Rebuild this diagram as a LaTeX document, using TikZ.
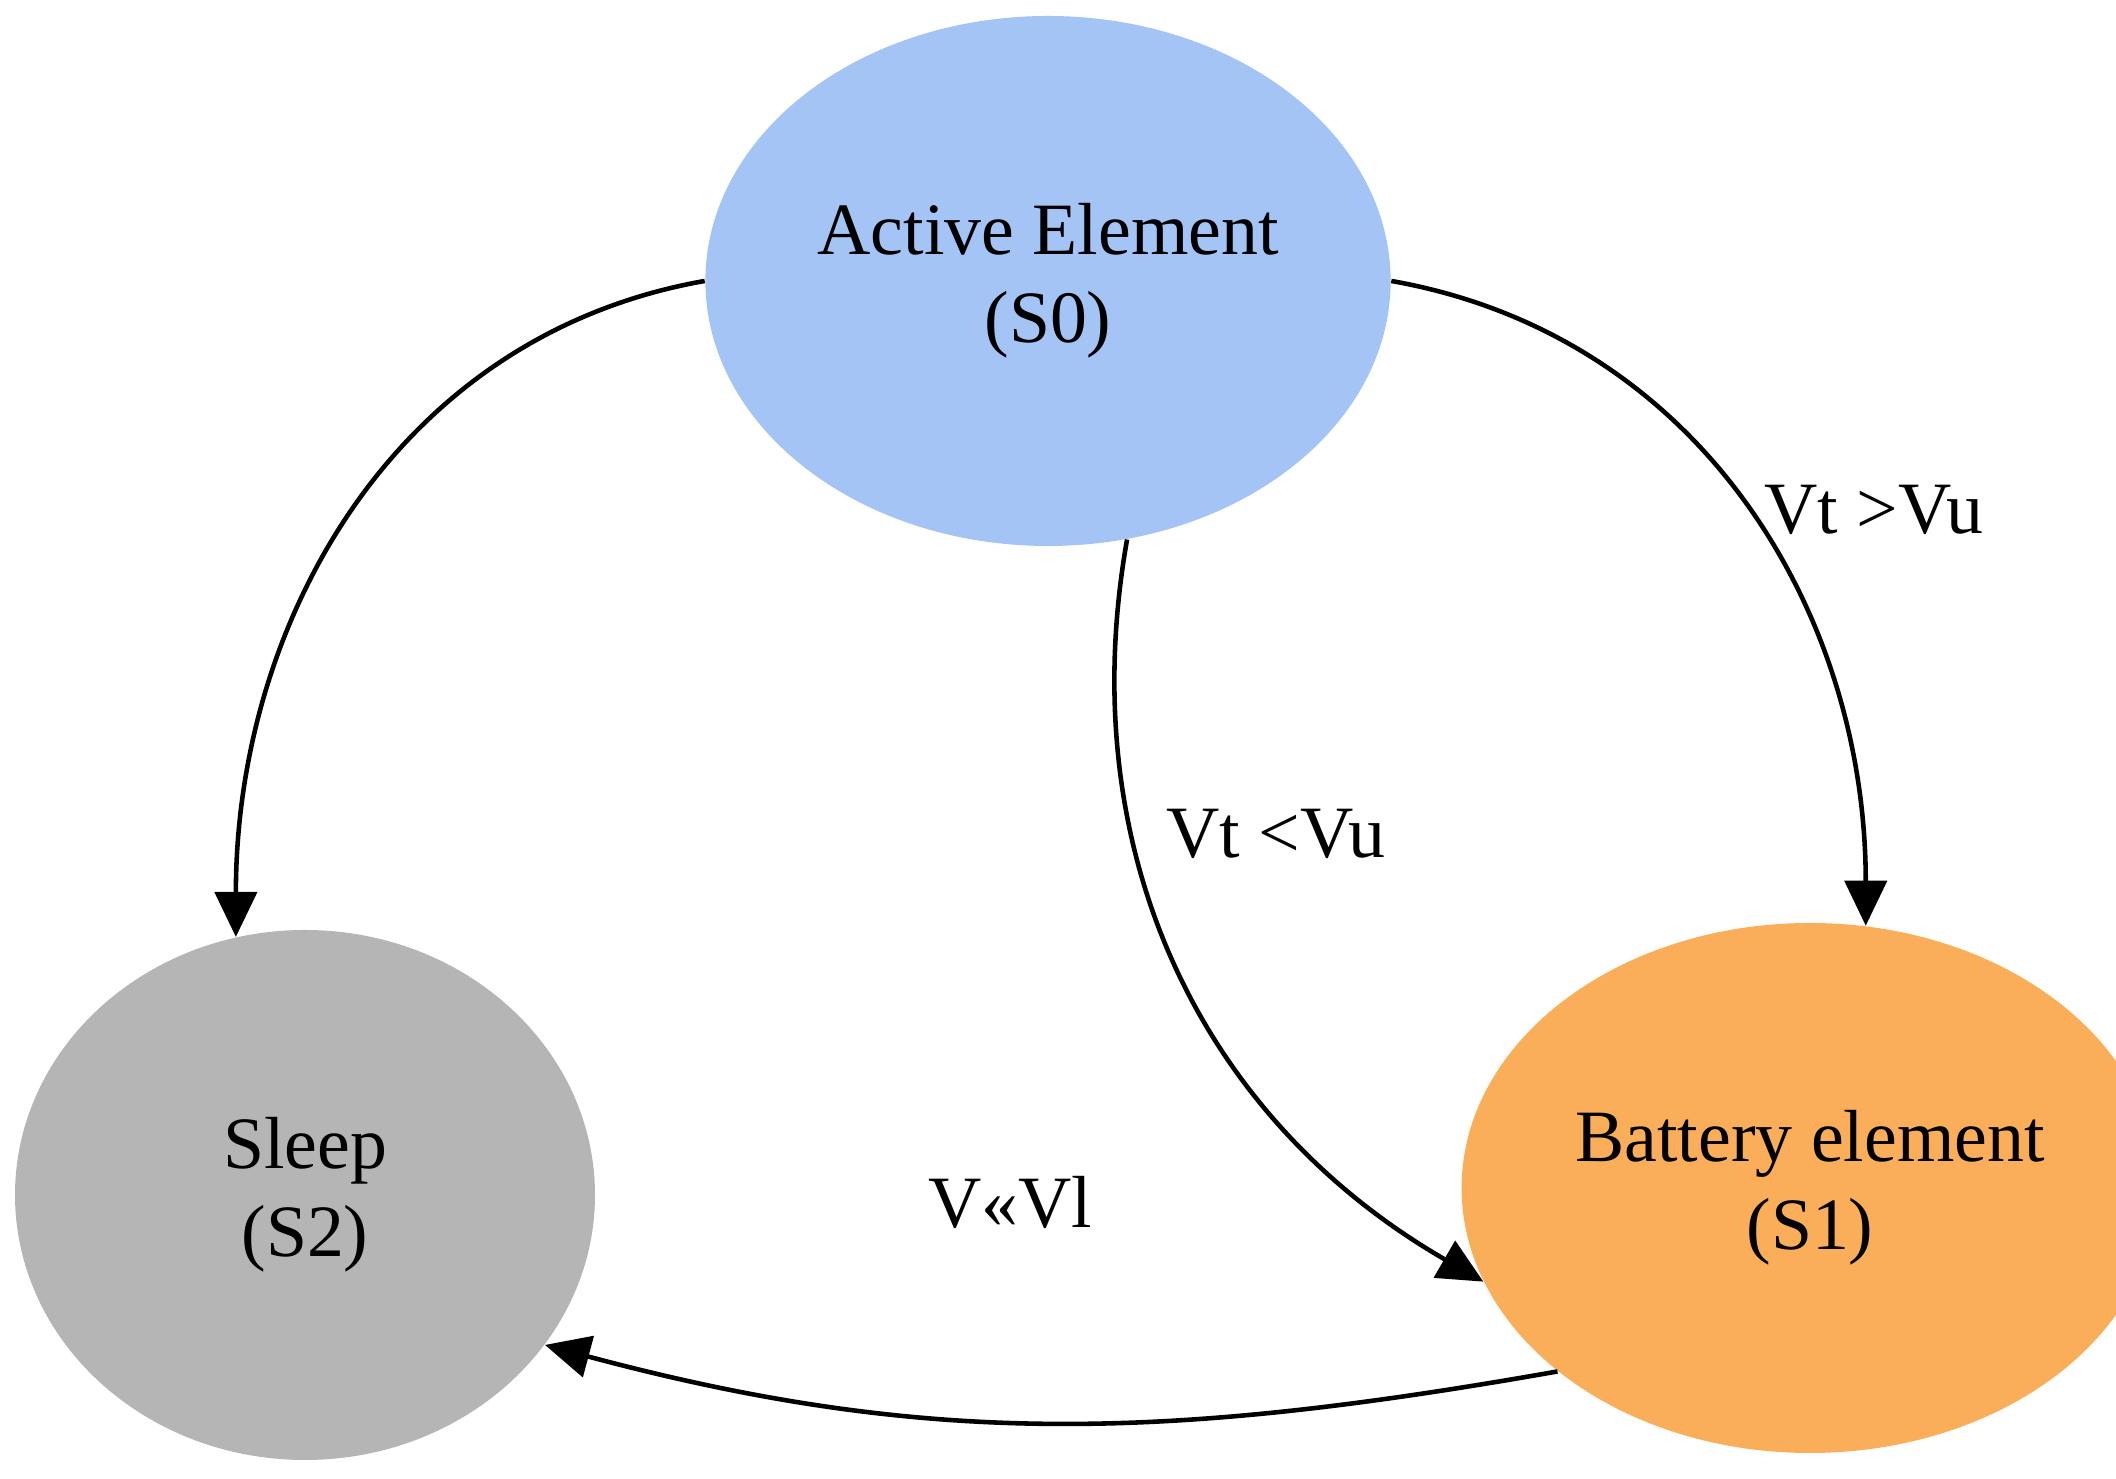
\documentclass[tikz,border=0pt]{standalone}
\usepackage{fontspec}
\setmainfont{Liberation Serif}
\usetikzlibrary{shapes.geometric,arrows.meta}
\tikzstyle{state} = [ellipse, minimum width = 5.8cm, minimum height=5.3cm, text centered, align=center, font=\fontsize{21}{25}\selectfont]
\tikzstyle{arrow} = [line width=1.3pt,-{Triangle[length=0.45cm,width=0.42cm]}]
\tikzstyle{lab} = [font=\fontsize{21}{25}\selectfont]
\definecolor{activeblue}{RGB}{164,196,246}
\definecolor{battorange}{RGB}{250,174,90}
\definecolor{sleepgray}{RGB}{181,181,181}
\begin{document}
\begin{tikzpicture}
\useasboundingbox (0,0) rectangle (21.16,14.79);

\node(active)  [state, fill=activeblue] at (10.48,11.98) {Active Element\\(S0)};
\node(sleep)   [state, fill=sleepgray] at (3.05,2.84) {Sleep\\(S2)};
\node(battery) [state, fill=battorange] at (18.10,2.91) {Battery element\\(S1)};

\draw [arrow] (active.180) to[out=190,in=90] (sleep.105);
\draw [arrow] (active.0) to[out=-10,in=90] (battery.78);
\draw [arrow] (active.287) to[out=260,in=150] (battery.196);
\draw [arrow] (battery.216) to[out=190,in=-15] (sleep.328);

\node(upper) [lab] at (18.74,9.69) {Vt >Vu};
\node(lower) [lab] at (12.76,6.45) {Vt <Vu};
\node(low)   [lab] at (10.10,2.77) {V<<Vl};

\end{tikzpicture}
\end{document}
